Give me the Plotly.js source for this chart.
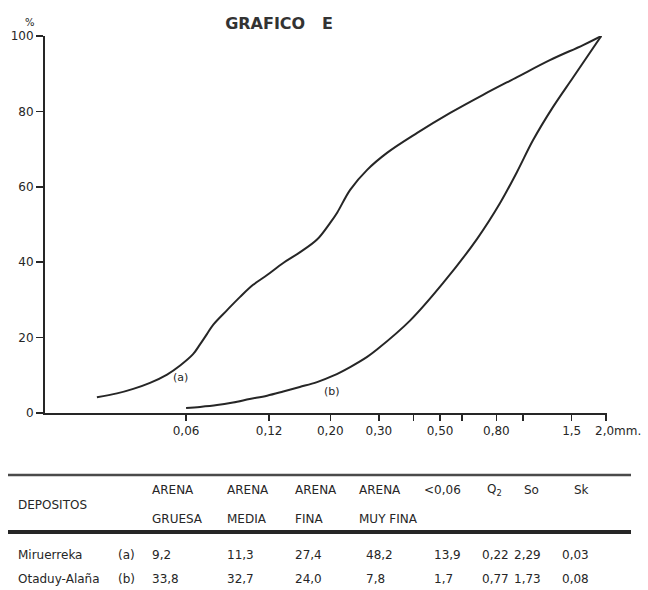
<!DOCTYPE html>
<html>
<head>
<meta charset="utf-8">
<script src="https://cdn.plot.ly/plotly-3.0.1.min.js"></script>
<style>
  html, body { margin: 0; padding: 0; background: #ffffff; }
  #chart { width: 648px; height: 590px; }
</style>
</head>
<body>
<div id="chart"></div>
<script>
// Grain-size cumulative curves (sieve opening in mm, cumulative %)
const sizesA = [0.0285, 0.0337, 0.0386, 0.0444, 0.0512, 0.0571, 0.0636, 0.0674, 0.0715, 0.0752,
                0.0845, 0.0942, 0.105, 0.118, 0.135, 0.155, 0.179, 0.200, 0.212, 0.236,
                0.272, 0.321, 0.413, 0.544, 0.716, 0.951, 1.25, 1.65, 1.92];
const pctA   = [4.2, 5.2, 6.4, 8.0, 10.2, 12.6, 15.6, 18.2, 21.0, 23.4,
                27.3, 30.8, 34.0, 36.6, 39.8, 42.6, 46.0, 50.5, 53.2, 59.2,
                64.5, 69.0, 74.3, 79.6, 84.4, 89.1, 93.6, 97.6, 100];

const sizesB = [0.060, 0.0674, 0.0777, 0.0888, 0.102, 0.118, 0.135, 0.155, 0.179, 0.205,
                0.236, 0.272, 0.296, 0.389, 0.513, 0.681, 0.825, 0.951, 1.087, 1.284,
                1.517, 1.92];
const pctB   = [1.3, 1.6, 2.1, 2.8, 3.7, 4.6, 5.7, 6.9, 8.2, 9.9,
                12.2, 14.9, 16.9, 24.5, 34.5, 46.2, 55.7, 64.0, 72.4, 81.2,
                89.0, 100];

// Axis ticks
const xTickVals = [0.06, 0.12, 0.20, 0.30, 0.50, 0.80, 1.5];
const xTickText = ['0,06', '0,12', '0,20', '0,30', '0,50', '0,80', '1,5'];
const xMinorVals = [0.40, 0.60, 1.0, 2.0];
const xEndLabel = '2,0mm.';
const xEndValue = 2.0;
const yTickVals = [0, 20, 40, 60, 80, 100];

// Curve labels
const curveLabels = ['(a)', '(b)'];
const curveLabelX = [0.0571, 0.203];
const curveLabelY = [9.3, 5.6];

// Summary table
const depositNames = ['Miruerreka', 'Otaduy-Alaña'];
const depositTags  = ['(a)', '(b)'];
const headerTop    = ['ARENA', 'ARENA', 'ARENA', 'ARENA', '&lt;0,06', 'Q<sub>2</sub>', 'So', 'Sk'];
const headerBottom = ['GRUESA', 'MEDIA', 'FINA', 'MUY FINA', '', '', '', ''];
const rowA = ['9,2', '11,3', '27,4', '48,2', '13,9', '0,22', '2,29', '0,03'];
const rowB = ['33,8', '32,7', '24,0', '7,8', '1,7', '0,77', '1,73', '0,08'];
const tableRows = [rowA, rowB];

// ---- layout geometry (pixels) ----
const W = 648, H = 590;
const M = { l: 45, r: 41, t: 36, b: 177 };
const plotW = W - M.l - M.r, plotH = H - M.t - M.b;
const px = v => (v - M.l) / plotW;            // pixel x -> paper x
const py = v => (H - M.b - v) / plotH;        // pixel y -> paper y

const INK = '#262626';
const FONT = 'DejaVu Sans, sans-serif';
const TICK_FONT = { family: FONT, size: 12, color: INK };
const TABLE_FONT = { family: FONT, size: 12, color: INK };

const lineStyle = { color: INK, width: 2, shape: 'spline', smoothing: 1.0 };
const traces = [
  { x: sizesA, y: pctA, type: 'scatter', mode: 'lines', line: lineStyle, hoverinfo: 'skip', showlegend: false },
  { x: sizesB, y: pctB, type: 'scatter', mode: 'lines', line: lineStyle, hoverinfo: 'skip', showlegend: false }
];

const annotations = [];
const note = (text, x, y, opts) => annotations.push(Object.assign({
  text: text, x: x, y: y, xref: 'paper', yref: 'paper', showarrow: false,
  xanchor: 'left', yanchor: 'middle', font: TABLE_FONT
}, opts || {}));

// percent sign above the y axis
note('%', px(23), py(22), { font: { family: FONT, size: 10, color: INK } });

// label of the last size tick, running on to the unit
annotations.push({
  text: xEndLabel, x: Math.log10(xEndValue), xref: 'x', y: py(431), yref: 'paper',
  xanchor: 'left', yanchor: 'middle', xshift: -13, showarrow: false, font: TICK_FONT
});

// curve tags
curveLabels.forEach((t, i) => annotations.push({
  text: t, x: Math.log10(curveLabelX[i]), y: curveLabelY[i], xref: 'x', yref: 'y',
  showarrow: false, xanchor: 'center', yanchor: 'middle',
  font: { family: FONT, size: 11, color: INK }
}));

// table header
const headerX = [152, 227, 295, 359, 424, 487, 524, 574];
const dataX   = [152, 227, 295, 366, 434, 482, 514, 562];
note('DEPOSITOS', px(16), py(505));
headerTop.forEach((t, i) => note(t, px(headerX[i] - 2), py(490)));
headerBottom.forEach((t, i) => { if (t) note(t, px(headerX[i] - 2), py(519)); });

// table body
const rowY = [555, 579];
depositNames.forEach((name, r) => {
  note(name, px(16), py(rowY[r]));
  note(depositTags[r], px(116), py(rowY[r]));
  tableRows[r].forEach((v, c) => note(v, px(dataX[c] - 2), py(rowY[r])));
});

const shapes = [
  { type: 'line', xref: 'paper', yref: 'paper', x0: px(8), x1: px(631), y0: py(475), y1: py(475),
    line: { color: '#4a4a4a', width: 2.5 } },
  { type: 'line', xref: 'paper', yref: 'paper', x0: px(8), x1: px(631), y0: py(532), y1: py(532),
    line: { color: INK, width: 4 } }
];

const layout = {
  width: W, height: H,
  margin: M,
  paper_bgcolor: '#ffffff', plot_bgcolor: '#ffffff',
  font: { family: FONT, size: 12, color: INK },
  title: {
    text: 'GRAFICO\u00a0\u00a0\u00a0E',
    x: 279 / W, xanchor: 'center', xref: 'container',
    y: 1 - 23 / H, yanchor: 'middle', yref: 'container',
    font: { family: FONT, size: 16, color: '#333333', weight: 'bold' }
  },
  xaxis: {
    type: 'log',
    range: [Math.log10(0.01848), Math.log10(2.014)],
    tickmode: 'array', tickvals: xTickVals, ticktext: xTickText, tickangle: 0,
    ticks: 'outside', ticklen: 6, tickwidth: 1.5, tickcolor: INK,
    minor: { tickmode: 'array', tickvals: xMinorVals, ticks: 'outside', ticklen: 6, tickwidth: 1.5, tickcolor: INK, showgrid: false },
    showline: true, linecolor: INK, linewidth: 2,
    showgrid: false, zeroline: false, automargin: false,
    tickfont: TICK_FONT
  },
  yaxis: {
    range: [0, 100],
    tickmode: 'array', tickvals: yTickVals,
    ticks: 'outside', ticklen: 7, tickwidth: 1.5, tickcolor: INK,
    showline: true, linecolor: INK, linewidth: 2,
    showgrid: false, zeroline: false, automargin: false,
    tickfont: TICK_FONT
  },
  annotations: annotations,
  shapes: shapes
};

Plotly.newPlot('chart', traces, layout, { staticPlot: true, displayModeBar: false });
</script>
</body>
</html>
